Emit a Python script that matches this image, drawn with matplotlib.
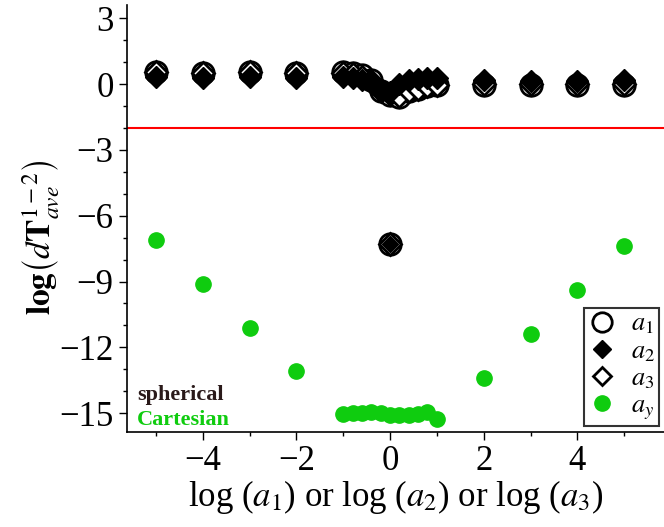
import matplotlib
matplotlib.use("Agg")
import matplotlib.pyplot as plt
from matplotlib.ticker import MultipleLocator
from matplotlib.lines import Line2D

plt.rcParams["font.family"] = ["Liberation Serif", "DejaVu Serif"]
plt.rcParams["mathtext.fontset"] = "stix"

# data
x_far_left = [-5, -4, -3, -2]
x_mid = [-1, -0.8, -0.6, -0.4, -0.2, 0, 0.2, 0.4, 0.6, 0.8, 1]
x_far_right = [2, 3, 4, 5]
x_all = x_far_left + x_mid + x_far_right

a1_vals = [0.55, 0.5, 0.55, 0.5,
           0.55, 0.5, 0.4, 0.2, -0.3, -0.5, -0.6, -0.3, -0.2, -0.1, -0.05,
           -0.05, -0.05, -0.05, -0.05]
a2_vals = [0.35, 0.3, 0.35, 0.3,
           0.35, 0.3, 0.2, 0.05, -0.2, -0.35, 0.0, 0.2, 0.25, 0.3, 0.3,
           0.2, 0.15, 0.15, 0.2]
a3_vals = [0.55, 0.5, 0.55, 0.5,
           0.5, 0.45, 0.35, 0.15, -0.3, -0.45, -0.55, -0.3, -0.2, -0.1, -0.05,
           0.0, 0.0, 0.0, 0.0]
ay_vals = [-7.1, -9.1, -11.1, -13.1,
           -15.05, -15.0, -15.0, -14.95, -15.0, -15.1, -15.1, -15.1, -15.05, -14.95, -15.25,
           -13.4, -11.4, -9.4, -7.4]

outlier_x = [0]
outlier_y = [-7.3]
red_level = -2.0

fig = plt.figure(figsize=(6.64, 5.27), dpi=100)
ax = fig.add_axes([0.191, 0.18, 0.809, 0.81])

green = "#0fcc0f"
ax.axhline(red_level, color="red", lw=1.5, zorder=1)

# circles, then open diamonds, filled diamonds on top
ax.plot(x_all, a1_vals, "o", ms=15.5, mfc="white", mec="black", mew=2, ls="none", zorder=3)
ax.plot(x_all, a3_vals, "D", ms=11, mfc="white", mec="black", mew=2, ls="none", zorder=4)
ax.plot(x_all, a2_vals, "D", ms=11, mfc="black", mec="black", ls="none", zorder=5)
ax.plot(outlier_x, outlier_y, "o", ms=15.5, mfc="white", mec="black", mew=2, zorder=3)
ax.plot(outlier_x, outlier_y, "D", ms=11, mfc="white", mec="black", mew=2, zorder=4)
ax.plot(outlier_x, outlier_y, "D", ms=8.5, mfc="black", mec="black", zorder=5)
ax.plot(x_all, ay_vals, "o", ms=11, color=green, ls="none", zorder=3)

ax.set_xlim(-5.62, 5.85)
ax.set_ylim(-15.87, 3.6)
ax.xaxis.set_major_locator(MultipleLocator(2))
ax.xaxis.set_minor_locator(MultipleLocator(1))
ax.yaxis.set_major_locator(MultipleLocator(3))
ax.yaxis.set_minor_locator(MultipleLocator(1))
ax.tick_params(which="major", length=6, width=1, labelsize=25, direction="out")
ax.tick_params(which="minor", length=3, width=1, direction="out")
fmt = plt.FuncFormatter(lambda v, p: f"{v:.0f}".replace("-", "\u2212"))
ax.xaxis.set_major_formatter(fmt)
ax.yaxis.set_major_formatter(fmt)

for side in ["top", "right"]:
    ax.spines[side].set_visible(False)
ax.spines["left"].set_linewidth(1.2)
ax.spines["bottom"].set_linewidth(1.2)

ax.set_xlabel(r"log ($a_1$) or log ($a_2$) or log ($a_3$)", fontsize=25, labelpad=0)
ax.set_ylabel(r"$\mathbf{log}\left(d\mathbf{T}_{ave}^{1-2}\right)$", fontsize=24)
ax.yaxis.set_label_coords(-0.12, 0.457)

ax.text(0.019, 32 / 427, "spherical", transform=ax.transAxes, fontsize=16,
        fontweight="bold", color="#2a1a1a", va="baseline")
ax.text(0.019, 7 / 427, "Cartesian", transform=ax.transAxes, fontsize=16,
        fontweight="bold", color=green, va="baseline")

handles = [
    Line2D([], [], marker="o", ms=14, mfc="white", mec="black", mew=2, ls="none"),
    Line2D([], [], marker="D", ms=9, mfc="black", mec="black", ls="none"),
    Line2D([], [], marker="D", ms=9, mfc="white", mec="black", mew=2, ls="none"),
    Line2D([], [], marker="o", ms=11, color=green, ls="none"),
]
labels = [r"$a_1$", r"$a_2$", r"$a_3$", r"$a_y$"]
leg = ax.legend(handles, labels, loc="lower right", bbox_to_anchor=(0.99, 0.014),
                fontsize=19, frameon=True, fancybox=False, edgecolor="black",
                handletextpad=0.6, borderpad=0.15, labelspacing=0.12, handlelength=1.0,
                borderaxespad=0)
leg.get_frame().set_linewidth(1.5)

fig.savefig("out.png", dpi=100)
